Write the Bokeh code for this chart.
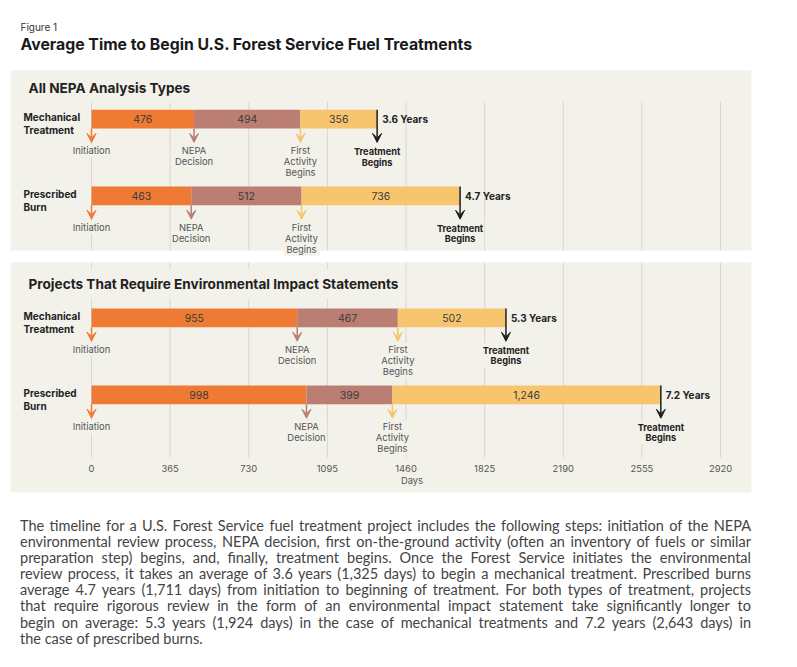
from bokeh.plotting import figure
from bokeh.models import Range1d, Arrow, VeeHead, Div
from bokeh.layouts import column
from bokeh.embed import file_html
from bokeh.resources import INLINE
from bokeh.core.properties import value

# ---------------- data ----------------
fig_label = "Figure 1"
fig_title = "Average Time to Begin U.S. Forest Service Fuel Treatments"
panel_titles = ["All NEPA Analysis Types",
                "Projects That Require Environmental Impact Statements"]
treatments = ["Mechanical\nTreatment", "Prescribed\nBurn"]
stages = ["Initiation", "NEPA\nDecision", "First\nActivity\nBegins"]
end_stage = "Treatment\nBegins"
# days: initiation -> NEPA decision, decision -> first activity, first activity -> treatment
all_mech = [476, 494, 356]
all_burn = [463, 512, 736]
eis_mech = [955, 467, 502]
eis_burn = [998, 399, 1246]
ticks = [0, 365, 730, 1095, 1460, 1825, 2190, 2555, 2920]
axis_label = "Days"
paragraph = [
    "The timeline for a U.S. Forest Service fuel treatment project includes the following steps: initiation of the NEPA",
    "environmental review process, NEPA decision, first on-the-ground activity (often an inventory of fuels or similar",
    "preparation step) begins, and, finally, treatment begins. Once the Forest Service initiates the environmental",
    "review process, it takes an average of 3.6 years (1,325 days) to begin a mechanical treatment. Prescribed burns",
    "average 4.7 years (1,711 days) from initiation to beginning of treatment. For both types of treatment, projects",
    "that require rigorous review in the form of an environmental impact statement take significantly longer to",
    "begin on average: 5.3 years (1,924 days) in the case of mechanical treatments and 7.2 years (2,643 days) in",
    "the case of prescribed burns.",
]

# ---------------- style ----------------
SEG_COLORS = ["#ee7a33", "#bb7e72", "#f6c56e"]
END_COLOR = "#1e1e1e"
PANEL = "#f2f1ea"
GRID = "#d8d6d0"
HEAD = "Inter"

X0, X_END = 91, 720                      # pixel positions of first / last tick
k = (X_END - X0) / ticks[-1]


def dx(px):
    return (px - X0) / k


W, H = 797, 500
p = figure(width=W, height=H, output_backend="svg", toolbar_location=None,
           x_range=Range1d(dx(0), dx(W)), y_range=Range1d(H, 0),
           x_axis_location=None, y_axis_location=None, min_border=0)
p.grid.grid_line_color = None
p.outline_line_color = None
p.background_fill_color = "white"
p.border_fill_color = "white"

# titles
p.text(x=[dx(20)], y=[26], text=[fig_label], text_font=value(HEAD), text_font_size="10px",
       text_color="#333333", text_baseline="middle", text_align="left")
p.text(x=[dx(20)], y=[44], text=[fig_title], text_font=value(HEAD), text_font_size="15.8px",
       text_font_style="bold", text_color="#1a1a1a", text_baseline="middle", text_align="left")

groups = [
    dict(title=panel_titles[0], rows=[all_mech, all_burn], ys=[118.6, 195.4],
         box=(70, 250), grid=(101, 250), ty=87.3),
    dict(title=panel_titles[1], rows=[eis_mech, eis_burn], ys=[317.4, 394.4],
         box=(262, 492), grid=(262, 457), ty=283.5),
]
BH = 18.6

for g in groups:
    top, bot = g["box"]
    p.quad(left=[dx(10)], right=[dx(751)], top=[top], bottom=[bot], fill_color=PANEL, line_color=None)
    g0, g1 = g["grid"]
    p.segment(x0=ticks, y0=[g0] * len(ticks), x1=ticks, y1=[g1] * len(ticks),
              line_color=GRID, line_width=1)
    p.text(x=[dx(21)], y=[g["ty"]], text=[g["title"]], text_font=value(HEAD), text_font_size="13.6px",
           text_font_style="bold", text_color="#222222", text_baseline="middle", text_align="left",
           background_fill_color=PANEL, padding=7)
    for name, vals, yc in zip(treatments, g["rows"], g["ys"]):
        cum = [0]
        for v in vals:
            cum.append(cum[-1] + v)
        btop, bbot = yc - BH / 2, yc + BH / 2
        p.text(x=[dx(21)], y=[btop - 0.5], text=[name], text_font=value(HEAD), text_font_size="10px",
               text_font_style="bold", text_color="#222222", text_baseline="top", text_align="left",
               text_line_height=1.08, background_fill_color=PANEL, padding=2)
        p.hbar(y=[yc] * 3, left=cum[:-1], right=cum[1:], height=BH,
               fill_color=SEG_COLORS, line_color=None)
        p.text(x=[(a + b) / 2 for a, b in zip(cum[:-1], cum[1:])], y=[yc] * 3,
               text=[f"{v:,}" for v in vals], text_font=value(HEAD), text_font_size="10.5px",
               text_color="#3b3b3b", text_baseline="middle", text_align="center")
        # stage markers
        p.text(x=cum[:-1], y=[bbot + 16] * 3, text=stages, text_font=value(HEAD),
               text_font_size="9.4px", text_color="#555555", text_baseline="top", text_align="center",
               text_line_height=0.98, background_fill_color=PANEL, padding=1)
        for xv, c in zip(cum[:-1], SEG_COLORS):
            p.add_layout(Arrow(x_start=xv, y_start=bbot, x_end=xv, y_end=bbot + 14,
                               line_color=c, line_width=1.5,
                               end=VeeHead(size=9, fill_color=c, line_color=c, line_width=1)))
        p.add_layout(Arrow(x_start=cum[-1], y_start=btop, x_end=cum[-1], y_end=bbot + 14,
                           line_color=END_COLOR, line_width=1.5,
                           end=VeeHead(size=9, fill_color=END_COLOR, line_color=END_COLOR, line_width=1)))
        p.text(x=[cum[-1]], y=[bbot + 16.5], text=[end_stage], text_font=value(HEAD),
               text_font_size="9.2px", text_font_style="bold", text_color="#222222",
               text_baseline="top", text_align="center", text_line_height=0.98,
               background_fill_color=PANEL, padding=1)
        p.text(x=[cum[-1]], y=[yc], x_offset=5, text=[f"{cum[-1] / 365:.1f} Years"],
               text_font=value(HEAD), text_font_size="10px", text_font_style="bold",
               text_color="#222222", text_baseline="middle", text_align="left")

# axis ticks
p.text(x=ticks, y=[467.7] * len(ticks), text=[str(t) for t in ticks], text_font=value(HEAD),
       text_font_size="9.4px", text_color="#555555", text_baseline="middle", text_align="center")
p.text(x=[dx(411.5)], y=[479.7], text=[axis_label], text_font=value(HEAD),
       text_font_size="9.4px", text_color="#555555", text_baseline="middle", text_align="center")

# paragraph
rows_html = []
for i, ln in enumerate(paragraph):
    last = "justify" if i < len(paragraph) - 1 else "left"
    rows_html.append(f'<div style="text-align:justify;text-align-last:{last};white-space:nowrap;">{ln}</div>')
html = ('<div style="font-family:Lato, sans-serif;font-size:14.5px;line-height:16.1px;color:#444444;width:731px;">'
        + "".join(rows_html) + "</div>")
div = Div(text=html, width=731, margin=(18, 0, 0, 20))

layout = column(p, div)
open("out.html", "w").write(file_html(layout, INLINE))
